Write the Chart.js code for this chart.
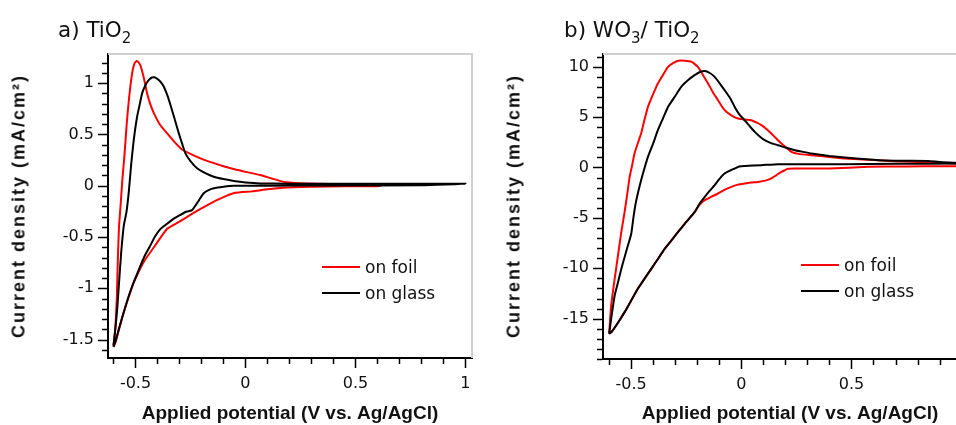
<!DOCTYPE html>
<html>
<head>
<meta charset="utf-8">
<script src="https://cdn.jsdelivr.net/npm/chart.js@4.4.0/dist/chart.umd.min.js"></script>
<style>
    html, body { margin: 0; padding: 0; background: #fff; }
    body { width: 956px; height: 425px; overflow: hidden; position: relative; color: #111; }
    canvas { position: absolute; top: 0; }
    #chart-a { left: 0; }
    #chart-b { left: 478px; }
    .ptitle { position: absolute; top: 19px; font-family: "DejaVu Sans", sans-serif; font-size: 21.5px; line-height: 22px; white-space: nowrap; }
    .ptitle sub { font-size: 15px; vertical-align: baseline; position: relative; top: 6px; }
    .ytitle { position: absolute; font-family: Arial, "Liberation Sans", sans-serif; font-weight: bold; font-size: 18px; letter-spacing: 2px; white-space: nowrap; transform: translate(-50%, -50%) rotate(-90deg); }
    .legend { position: absolute; font-family: "DejaVu Sans", sans-serif; font-size: 17px; }
    .legend .row { display: flex; align-items: center; height: 26px; }
    .legend .swatch { width: 38px; height: 2px; margin-right: 5px; }
</style>
</head>
<body>
<canvas id="chart-a" width="478" height="425"></canvas>
<canvas id="chart-b" width="520" height="425"></canvas>

<div class="ptitle" style="left:58px">a) TiO<sub>2</sub></div>
<div class="ptitle" style="left:564px">b) WO<sub>3</sub>/ TiO<sub>2</sub></div>

<div class="ytitle" style="left:19px; top:206px">Current density (mA/cm²)</div>
<div class="ytitle" style="left:514px; top:206px">Current density (mA/cm²)</div>

<div class="legend" style="left:322px; top:254px">
    <div class="row"><span class="swatch" style="background:#ff0000"></span>on foil</div>
    <div class="row"><span class="swatch" style="background:#000"></span>on glass</div>
</div>
<div class="legend" style="left:801px; top:252px">
    <div class="row"><span class="swatch" style="background:#ff0000"></span>on foil</div>
    <div class="row"><span class="swatch" style="background:#000"></span>on glass</div>
</div>

<script>
// ---- 数据: a) TiO2 ----
const foilAX = [-0.600, -0.592, -0.585, -0.580, -0.575, -0.568, -0.560, -0.550, -0.540, -0.530, -0.515, -0.505, -0.495, -0.485, -0.477, -0.462, -0.447, -0.432, -0.417, -0.390, -0.356, -0.320, -0.290, -0.250, -0.205, -0.150, -0.100, -0.050, 0.000, 0.068, 0.120, 0.170, 0.250, 0.330, 0.450, 0.600, 0.620,
                0.600, 0.450, 0.300, 0.170, 0.100, 0.030, -0.050, -0.120, -0.200, -0.240, -0.300, -0.356, -0.410, -0.462, -0.507, -0.530, -0.553, -0.575, -0.590, -0.600];
const foilAY = [-1.56, -1.40, -1.10, -0.70, -0.40, -0.20, 0.05, 0.30, 0.60, 0.84, 1.10, 1.19, 1.215, 1.20, 1.17, 1.05, 0.90, 0.79, 0.71, 0.60, 0.51, 0.42, 0.355, 0.31, 0.267, 0.225, 0.19, 0.16, 0.135, 0.104, 0.07, 0.04, 0.025, 0.02, 0.015, 0.01, 0.005,
                -0.005, -0.005, -0.01, -0.02, -0.035, -0.055, -0.07, -0.13, -0.22, -0.27, -0.35, -0.42, -0.58, -0.74, -0.94, -1.08, -1.23, -1.40, -1.52, -1.57];

const glassAX = [-0.600, -0.592, -0.583, -0.575, -0.565, -0.553, -0.541, -0.530, -0.520, -0.508, -0.493, -0.480, -0.470, -0.455, -0.440, -0.425, -0.414, -0.400, -0.385, -0.371, -0.355, -0.341, -0.322, -0.303, -0.288, -0.273, -0.250, -0.220, -0.180, -0.144, -0.100, -0.053, 0.000, 0.068, 0.200, 0.500, 0.800, 1.000,
                 0.800, 0.400, 0.100, -0.053, -0.100, -0.144, -0.170, -0.190, -0.205, -0.220, -0.242, -0.260, -0.273, -0.300, -0.326, -0.356, -0.386, -0.410, -0.432, -0.455, -0.477, -0.508, -0.530, -0.553, -0.575, -0.590, -0.600];
const glassAY = [-1.556, -1.40, -1.20, -0.95, -0.65, -0.386, -0.256, -0.05, 0.20, 0.445, 0.67, 0.80, 0.90, 0.98, 1.03, 1.055, 1.057, 1.04, 1.01, 0.965, 0.88, 0.787, 0.65, 0.51, 0.41, 0.316, 0.24, 0.17, 0.12, 0.088, 0.065, 0.046, 0.032, 0.023, 0.02, 0.02, 0.02, 0.02,
                 0.005, 0.003, 0.0, 0.0, -0.01, -0.025, -0.045, -0.074, -0.12, -0.17, -0.237, -0.25, -0.256, -0.29, -0.32, -0.37, -0.42, -0.49, -0.58, -0.67, -0.776, -0.94, -1.07, -1.23, -1.39, -1.51, -1.57];

// ---- 数据: b) WO3/TiO2 ----
const foilBX = [-0.600, -0.598, -0.591, -0.575, -0.560, -0.545, -0.530, -0.517, -0.507, -0.495, -0.485, -0.470, -0.455, -0.440, -0.424, -0.400, -0.379, -0.355, -0.333, -0.310, -0.287, -0.257, -0.227, -0.197, -0.175, -0.151, -0.130, -0.106, -0.085, -0.068, -0.040, -0.015, 0.015, 0.045, 0.070, 0.091, 0.115, 0.136, 0.160, 0.182, 0.205, 0.227, 0.260, 0.318, 0.400, 0.470, 0.550, 0.621, 0.700, 0.773, 0.880, 0.970, 1.000,
                1.000, 0.900, 0.750, 0.576, 0.400, 0.243, 0.212, 0.195, 0.182, 0.160, 0.136, 0.110, 0.076, 0.045, 0.015, -0.015, -0.045, -0.075, -0.106, -0.136, -0.166, -0.190, -0.212, -0.250, -0.288, -0.318, -0.348, -0.378, -0.409, -0.440, -0.470, -0.500, -0.530, -0.560, -0.590, -0.600];
const foilBY = [-16.4, -15.84, -13.69, -11.05, -8.73, -6.42, -4.43, -2.5, -0.93, 0.3, 1.39, 2.4, 3.37, 4.7, 6.01, 7.3, 8.33, 9.2, 9.98, 10.35, 10.6, 10.6, 10.5, 9.98, 9.2, 8.33, 7.5, 6.68, 5.95, 5.52, 5.1, 4.86, 4.75, 4.69, 4.45, 4.2, 3.8, 3.37, 2.85, 2.38, 1.95, 1.55, 1.35, 1.22, 1.05, 0.89, 0.8, 0.72, 0.63, 0.56, 0.48, 0.4, 0.38,
                0.15, 0.13, 0.1, 0.07, -0.1, -0.1, -0.12, -0.3, -0.44, -0.75, -1.09, -1.3, -1.43, -1.5, -1.59, -1.7, -1.92, -2.2, -2.58, -2.9, -3.24, -3.7, -4.43, -5.4, -6.42, -7.25, -8.07, -9.05, -10.06, -11.05, -12.04, -13.2, -14.35, -15.4, -16.34, -16.5];

const glassBX = [-0.600, -0.591, -0.575, -0.560, -0.545, -0.530, -0.515, -0.500, -0.490, -0.480, -0.467, -0.455, -0.440, -0.424, -0.400, -0.379, -0.355, -0.333, -0.300, -0.273, -0.240, -0.212, -0.185, -0.166, -0.145, -0.121, -0.100, -0.076, -0.050, -0.030, -0.010, 0.015, 0.040, 0.061, 0.085, 0.106, 0.135, 0.167, 0.200, 0.243, 0.280, 0.318, 0.400, 0.470, 0.550, 0.621, 0.700, 0.848, 0.900, 1.000,
                 1.000, 0.700, 0.470, 0.167, 0.091, 0.015, -0.010, -0.030, -0.050, -0.076, -0.100, -0.121, -0.145, -0.166, -0.190, -0.212, -0.250, -0.288, -0.318, -0.348, -0.378, -0.409, -0.440, -0.470, -0.500, -0.530, -0.560, -0.590, -0.600];
const glassBY = [-16.5, -15.02, -12.7, -11.4, -10.06, -8.9, -7.74, -6.6, -5.0, -3.6, -2.3, -1.26, -0.1, 1.05, 2.4, 3.7, 4.9, 6.01, 7.1, 8.0, 8.7, 9.16, 9.5, 9.58, 9.4, 8.99, 8.4, 7.67, 6.85, 6.01, 5.3, 4.69, 4.05, 3.53, 3.05, 2.71, 2.42, 2.21, 1.98, 1.72, 1.55, 1.39, 1.15, 0.99, 0.84, 0.72, 0.68, 0.65, 0.55, 0.45,
                 0.4, 0.37, 0.33, 0.33, 0.23, 0.16, 0.1, -0.1, -0.3, -0.6, -1.15, -1.76, -2.35, -2.92, -3.6, -4.43, -5.4, -6.42, -7.25, -8.07, -9.05, -10.06, -11.05, -12.04, -13.2, -14.35, -15.4, -16.34, -16.5];

// ---- 刻度 ----
const xTicks = [-0.6, -0.5, -0.4, -0.3, -0.2, -0.1, 0, 0.1, 0.2, 0.3, 0.4, 0.5, 0.6, 0.7, 0.8, 0.9, 1];
const xLabels = [-0.5, 0, 0.5, 1];
const yTicksA = [-1.6, -1.5, -1.4, -1.3, -1.2, -1.1, -1, -0.9, -0.8, -0.7, -0.6, -0.5, -0.4, -0.3, -0.2, -0.1, 0, 0.1, 0.2, 0.3, 0.4, 0.5, 0.6, 0.7, 0.8, 0.9, 1, 1.1, 1.2];
const yLabelsA = [-1.5, -1, -0.5, 0, 0.5, 1];
const yTicksB = [-19, -18, -17, -16, -15, -14, -13, -12, -11, -10, -9, -8, -7, -6, -5, -4, -3, -2, -1, 0, 1, 2, 3, 4, 5, 6, 7, 8, 9, 10, 11];
const yLabelsB = [-15, -10, -5, 0, 5, 10];

// x,y 数组合成点
function toPoints(xs, ys) {
    return xs.map((x, i) => ({ x: x, y: ys[i] }));
}

// 灰色外框 + 长短刻度线
const frameTicks = {
    id: 'frameTicks',
    beforeDatasetsDraw(chart) {
        const { ctx, chartArea: a } = chart;
        ctx.save();
        ctx.strokeStyle = '#cfcfcf';
        ctx.lineWidth = 2;
        ctx.beginPath();
        ctx.moveTo(a.left, a.top);
        ctx.lineTo(a.right, a.top);
        ctx.lineTo(a.right, a.bottom);
        ctx.stroke();
        ctx.restore();
    },
    afterDraw(chart) {
        const { ctx, chartArea: a } = chart;
        const xs = chart.scales.x, ys = chart.scales.y;
        const lab = chart.options.plugins.frameTicks;
        ctx.save();
        ctx.strokeStyle = '#000';
        ctx.lineWidth = 1.5;
        ctx.beginPath();
        xs.ticks.forEach(t => {
            const px = Math.round(xs.getPixelForValue(t.value)) + 0.5;
            const len = lab.xMajor.includes(t.value) ? 9 : 5;
            ctx.moveTo(px, a.bottom + 1);
            ctx.lineTo(px, a.bottom + 1 + len);
        });
        ys.ticks.forEach(t => {
            const py = Math.round(ys.getPixelForValue(t.value)) + 0.5;
            const len = lab.yMajor.includes(t.value) ? 9 : 5;
            ctx.moveTo(a.left - 1, py);
            ctx.lineTo(a.left - 1 - len, py);
        });
        ctx.stroke();
        ctx.restore();
    }
};

// 画一个面板
function buildChart(canvasId, cfg) {
    const ctx = document.getElementById(canvasId).getContext('2d');
    const tickFont = { family: '"DejaVu Sans", sans-serif', size: 16 };
    return new Chart(ctx, {
        type: 'line',
        data: {
            datasets: [
                {
                    label: 'on foil',
                    data: toPoints(cfg.foilX, cfg.foilY),
                    borderColor: '#ff0000',
                    borderWidth: 2,
                    pointRadius: 0,
                    tension: 0.15,
                    fill: false,
                    order: 1
                },
                {
                    label: 'on glass',
                    data: toPoints(cfg.glassX, cfg.glassY),
                    borderColor: '#000000',
                    borderWidth: 2,
                    pointRadius: 0,
                    tension: 0.15,
                    fill: false,
                    order: 0
                }
            ]
        },
        options: {
            responsive: false,
            animation: false,
            layout: { padding: { left: 0, top: 54, right: cfg.padRight, bottom: 0 } },
            plugins: {
                legend: { display: false },
                tooltip: { enabled: false },
                frameTicks: { xMajor: xLabels, yMajor: cfg.yLabels }
            },
            scales: {
                x: {
                    type: 'linear',
                    min: cfg.xMin,
                    max: cfg.xMax,
                    afterBuildTicks: s => { s.ticks = xTicks.map(v => ({ value: v })); },
                    afterFit: s => {
                        s.height = cfg.xHeight;
                        // 不让末端刻度文字挤压绘图区
                        s.paddingLeft = 0;
                        s.paddingRight = 0;
                    },
                    grid: { display: false, drawTicks: false },
                    border: { display: true, color: '#000', width: 2 },
                    ticks: {
                        autoSkip: false,
                        maxRotation: 0,
                        padding: 16,
                        color: '#111',
                        font: tickFont,
                        callback: v => xLabels.includes(v) ? String(v) : ''
                    },
                    title: {
                        display: true,
                        text: 'Applied potential (V vs. Ag/AgCl)',
                        color: '#111',
                        font: { family: 'Arial, "Liberation Sans", sans-serif', size: 19, weight: 'bold' },
                        padding: { top: 0, bottom: 0 }
                    }
                },
                y: {
                    type: 'linear',
                    min: cfg.yMin,
                    max: cfg.yMax,
                    afterBuildTicks: s => { s.ticks = cfg.yTicks.map(v => ({ value: v })); },
                    afterFit: s => {
                        s.width = cfg.yWidth;
                        s.paddingTop = 0;
                        s.paddingBottom = 0;
                    },
                    grid: { display: false, drawTicks: false },
                    border: { display: true, color: '#000', width: 2 },
                    ticks: {
                        autoSkip: false,
                        padding: 14,
                        color: '#111',
                        font: tickFont,
                        callback: v => cfg.yLabels.includes(v) ? String(v) : ''
                    }
                }
            }
        },
        plugins: [frameTicks]
    });
}

buildChart('chart-a', {
    foilX: foilAX, foilY: foilAY, glassX: glassAX, glassY: glassAY,
    xMin: -0.625, xMax: 1.03, yMin: -1.679, yMax: 1.284,
    yTicks: yTicksA, yLabels: yLabelsA,
    yWidth: 108, xHeight: 67, padRight: 6
});

buildChart('chart-b', {
    foilX: foilBX, foilY: foilBY, glassX: glassBX, glassY: glassBY,
    xMin: -0.628, xMax: 1.07, yMin: -19, yMax: 11.26,
    yTicks: yTicksB, yLabels: yLabelsB,
    yWidth: 125, xHeight: 66, padRight: 21
});
</script>
</body>
</html>
